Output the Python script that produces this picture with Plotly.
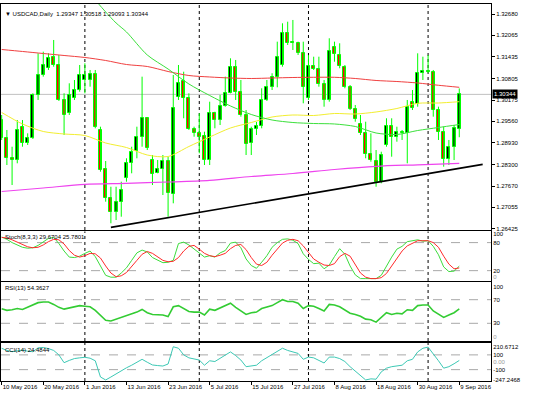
import plotly.graph_objects as go
from plotly.subplots import make_subplots

SYMBOL = "USDCAD"
TIMEFRAME = "Daily"

# ---------------- price data (daily bars, 10 May 2016 .. 9 Sep 2016) ----------------
OPEN = [
    1.29596, 1.29062, 1.28479, 1.28429, 1.29401, 1.28917, 1.29062, 1.30326, 1.30909, 1.31105,
    1.31425, 1.31201, 1.30180, 1.29792, 1.30229, 1.30471, 1.30763, 1.30763, 1.30938, 1.29305,
    1.28158, 1.27329, 1.26921, 1.27213, 1.27895, 1.28351, 1.28701, 1.29092, 1.29646, 1.28429,
    1.28059, 1.28158, 1.28409, 1.27437, 1.30276, 1.30743, 1.30229, 1.29325, 1.29226, 1.29130,
    1.28429, 1.29792, 1.29596, 1.30005, 1.30393, 1.31134, 1.30422, 1.29742, 1.28917, 1.29334,
    1.29421, 1.30180, 1.30550, 1.30842, 1.31201, 1.32126, 1.31863, 1.31834, 1.31542, 1.30229,
    1.31172, 1.31084, 1.30638, 1.30180, 1.31735, 1.31493, 1.31134, 1.30550, 1.29909, 1.29480,
    1.29208, 1.28604, 1.28409, 1.27796, 1.28867, 1.29421, 1.29109, 1.29255, 1.29208, 1.30130,
    1.30063, 1.30976, 1.30997, 1.31005, 1.29888, 1.29255, 1.28450, 1.28817, 1.29347]
HIGH = [
    1.29742, 1.29305, 1.28817, 1.29596, 1.29596, 1.29208, 1.30375, 1.31542, 1.31589, 1.31542,
    1.31930, 1.31493, 1.30375, 1.30667, 1.30763, 1.31201, 1.31250, 1.31055, 1.31055, 1.29401,
    1.28400, 1.27650, 1.27650, 1.27796, 1.28479, 1.28817, 1.29401, 1.30860, 1.29684, 1.28575,
    1.28429, 1.28575, 1.28526, 1.30909, 1.31201, 1.31005, 1.30375, 1.29401, 1.29792, 1.29255,
    1.30130, 1.29838, 1.30326, 1.30860, 1.31396, 1.31347, 1.30763, 1.29888, 1.29401, 1.29538,
    1.30521, 1.30763, 1.30959, 1.31881, 1.32417, 1.32464, 1.32514, 1.31881, 1.31881, 1.31493,
    1.31443, 1.31443, 1.30763, 1.31980, 1.31881, 1.31834, 1.31201, 1.30617, 1.30034, 1.29742,
    1.29547, 1.29208, 1.28721, 1.28671, 1.29646, 1.29646, 1.29401, 1.29305, 1.30180, 1.30471,
    1.31542, 1.31443, 1.31493, 1.31055, 1.29984, 1.29401, 1.29013, 1.29450, 1.30518]
LOW = [
    1.29013, 1.28283, 1.27700, 1.28333, 1.28817, 1.28867, 1.29042, 1.30180, 1.30860, 1.31055,
    1.31151, 1.30151, 1.29159, 1.29742, 1.30180, 1.30422, 1.30375, 1.30568, 1.29354, 1.28088,
    1.27213, 1.26583, 1.26679, 1.26775, 1.27796, 1.28041, 1.28479, 1.28817, 1.28721, 1.27700,
    1.28041, 1.27408, 1.26775, 1.27166, 1.30180, 1.29646, 1.29305, 1.29109, 1.28625, 1.28283,
    1.28283, 1.29354, 1.29450, 1.29984, 1.30375, 1.30180, 1.29693, 1.28575, 1.28575, 1.29159,
    1.29354, 1.30151, 1.30471, 1.30550, 1.31151, 1.31784, 1.31638, 1.31493, 1.30083, 1.30180,
    1.31055, 1.30568, 1.29984, 1.30130, 1.31297, 1.31105, 1.30521, 1.29888, 1.29547, 1.29159,
    1.28479, 1.28380, 1.27650, 1.27750, 1.28817, 1.28526, 1.28963, 1.29013, 1.28333, 1.29888,
    1.29984, 1.30763, 1.30967, 1.29693, 1.29013, 1.28234, 1.28283, 1.28429, 1.29093]
CLOSE = [
    1.29062, 1.28479, 1.28429, 1.29305, 1.28917, 1.29062, 1.30326, 1.30909, 1.31201, 1.31396,
    1.31201, 1.30180, 1.29742, 1.30326, 1.30471, 1.30909, 1.30909, 1.30938, 1.29401, 1.28138,
    1.27312, 1.26904, 1.27213, 1.27554, 1.28333, 1.28671, 1.29092, 1.29646, 1.28771, 1.28012,
    1.28158, 1.28409, 1.27458, 1.29938, 1.30684, 1.30229, 1.29325, 1.29226, 1.29092, 1.28429,
    1.29792, 1.29596, 1.30005, 1.30393, 1.31134, 1.30422, 1.29742, 1.28896, 1.29325, 1.29421,
    1.30180, 1.30550, 1.30842, 1.31443, 1.32126, 1.31851, 1.31834, 1.31542, 1.30550, 1.31172,
    1.31084, 1.30638, 1.30180, 1.31609, 1.31522, 1.31172, 1.30568, 1.29909, 1.29617, 1.29226,
    1.28604, 1.28429, 1.27796, 1.28575, 1.29421, 1.29109, 1.29255, 1.29208, 1.29984, 1.29938,
    1.30959, 1.31035, 1.31026, 1.29888, 1.29255, 1.28450, 1.28817, 1.29354, 1.30344]
BAR_IDX = list(range(len(CLOSE)))

DATE_TICK_IDX = [0, 8, 16, 24, 32, 40, 48, 56, 64, 72, 80, 88]
DATE_TICK_TEXT = ["10 May 2016", "20 May 2016", "1 Jun 2016", "13 Jun 2016", "23 Jun 2016",
                  "5 Jul 2016", "15 Jul 2016", "27 Jul 2016", "8 Aug 2016", "18 Aug 2016",
                  "30 Aug 2016", "9 Sep 2016"]
MONTH_START_IDX = [16, 38, 59, 82]
PRICE_TICKS = [1.32680, 1.32065, 1.31435, 1.30805, 1.30175, 1.29560,
               1.28930, 1.28300, 1.27670, 1.27055, 1.26425]

# ---------------- moving averages ----------------
MA_RED_IDX = list(range(0, 89, 4))
MA_RED = [1.31653, 1.31595, 1.31536, 1.31478, 1.31420, 1.31332, 1.31215, 1.31157, 1.31011,
          1.30894, 1.30851, 1.30821, 1.30807, 1.30821, 1.30836, 1.30842, 1.30842, 1.30807,
          1.30749, 1.30719, 1.30676, 1.30609, 1.30550]
MA_YELLOW_IDX = list(range(0, 89, 4))
MA_YELLOW = [1.29815, 1.29480, 1.29261, 1.29188, 1.29144, 1.28925, 1.28794, 1.28575, 1.28531,
             1.28823, 1.29100, 1.29363, 1.29523, 1.29684, 1.29742, 1.29727, 1.29786, 1.29771,
             1.29830, 1.29932, 1.30083, 1.30092, 1.30130]
MA_GREEN_IDX = [18, 20, 22, 24, 28, 32, 36, 40, 44, 48, 52, 56, 60, 64, 68, 72, 76, 80, 84, 88]
MA_GREEN = [1.33097, 1.32747, 1.32426, 1.32164, 1.31493, 1.31084, 1.30647, 1.30311, 1.30005,
            1.29757, 1.29596, 1.29523, 1.29494, 1.29480, 1.29407, 1.29217, 1.29173, 1.29290,
            1.29377, 1.29465]
MA_MAGENTA_IDX = list(range(0, 89, 8))
MA_MAGENTA = [1.27510, 1.27612, 1.27720, 1.27749, 1.27787, 1.27837, 1.27948, 1.28035,
              1.28152, 1.28245, 1.28289, 1.28333]

TREND_IDX = [21, 92.5]
TREND_PRICE = [1.26464, 1.28302]

# ---------------- oscillators ----------------
STOCH_K = [92, 87, 80, 75, 70, 68, 69, 74, 82, 89,
           91, 78, 62, 49, 48, 51, 57, 62, 50, 30,
           10, 6, 6, 15, 26, 42, 58, 64, 60, 48,
           42, 37, 38, 42, 78, 81, 75, 66, 56, 49,
           52, 49, 58, 63, 79, 81, 69, 45, 31, 25,
           38, 52, 70, 80, 87, 88, 85, 78, 56, 44,
           35, 36, 24, 32, 50, 67, 55, 30, 11, 3,
           3, 3, 3, 10, 30, 49, 66, 72, 82, 84,
           86, 83, 84, 72, 54, 28, 18, 19, 29.6704]
STOCH_D = [91, 90, 86, 81, 75, 71, 69, 70, 75, 82,
           87, 86, 77, 63, 53, 49, 52, 57, 56, 47,
           30, 15, 7, 9, 16, 28, 42, 55, 61, 57,
           50, 42, 39, 40, 48, 62, 72, 74, 66, 57,
           52, 50, 53, 57, 67, 74, 76, 65, 48, 34,
           31, 38, 53, 67, 79, 85, 87, 84, 73, 59,
           45, 38, 32, 31, 35, 50, 57, 51, 32, 15,
           6, 3, 3, 5, 14, 30, 48, 62, 73, 79,
           84, 84, 84, 80, 70, 51, 34, 24, 25.7801]
RSI = [54.6, 52, 53, 55, 53.5, 57, 61.7, 65, 66, 66,
       62, 57, 54, 56, 58, 60, 59, 58, 52, 43,
       35, 34, 37, 40, 42.5, 46, 49, 53.5, 48, 45,
       45, 44, 41.4, 58, 60, 55, 50, 49, 49, 44,
       54, 52, 56, 59, 64, 57, 51, 45, 48, 49,
       55, 58, 60, 65, 70, 67, 67, 64, 55, 60,
       59, 55, 51, 62, 61, 58, 53, 47, 45, 42,
       37, 36, 32, 40, 48, 45, 47, 46, 53, 52,
       60, 61, 61, 51, 46, 40, 44, 48, 54.3627]
CCI = [189, 160, 143, 155, 165, 150, 143, 195, 200, 185,
       160, 100, -6, 25, 50, 60, 67, 55, 20, -200,
       -240, -200, -155, -110, -75, -40, 0, 40, 0, -37,
       -45, -51, -24, 210, 190, 100, 60, 45, 30, -40,
       20, 10, 50, 90, 140, 90, 30, -60, -50, -40,
       20, 60, 100, 150, 190, 160, 145, 120, 40, 70,
       60, 30, -10, 70, 70, 50, 10, -60, -120, -190,
       -240, -225, -230, -130, -80, -60, -50, -40, 20, 40,
       140, 190, 205, 120, 20, -80, -60, -20, 24.4844]
CCI_MAX, CCI_MIN = 210.6712, -247.2468

STOCH_LEVELS = [20, 80]
RSI_LEVELS = [30, 70]
CCI_LEVELS = [100, -100]

FONT = "Liberation Sans, Arial, sans-serif"
WICK_COLOR = "#00FF00"
BULL_BODY = "#000000"
BEAR_BODY = "#FF0000"

fig = make_subplots(rows=4, cols=1, shared_xaxes=True, vertical_spacing=0.003)

# wicks (high-low segments built from the data arrays)
wick_x, wick_y = [], []
for i, h, l in zip(BAR_IDX, HIGH, LOW):
    wick_x += [i, i, None]
    wick_y += [l, h, None]
fig.add_trace(go.Scatter(x=wick_x, y=wick_y, mode="lines", showlegend=False, hoverinfo="skip",
                         line=dict(color=WICK_COLOR, width=1)), row=1, col=1)

# bodies
body_base = [min(o, c) for o, c in zip(OPEN, CLOSE)]
body_len = [max(abs(c - o), 0.00003) for o, c in zip(OPEN, CLOSE)]
body_col = [BULL_BODY if c >= o else BEAR_BODY for o, c in zip(OPEN, CLOSE)]
fig.add_trace(go.Bar(x=BAR_IDX, y=body_len, base=body_base, width=0.55,
                     marker=dict(color=body_col, line=dict(color=WICK_COLOR, width=1)),
                     showlegend=False, hoverinfo="skip"), row=1, col=1)

for xs, ys, col, w in [(MA_RED_IDX, MA_RED, "#F04040", 1),
                       (MA_YELLOW_IDX, MA_YELLOW, "#F2EE30", 1),
                       (MA_GREEN_IDX, MA_GREEN, "#3CE03C", 1),
                       (MA_MAGENTA_IDX, MA_MAGENTA, "#EE44EE", 1.2)]:
    fig.add_trace(go.Scatter(x=xs, y=ys, mode="lines", showlegend=False, hoverinfo="skip",
                             line=dict(color=col, width=w, shape="spline", smoothing=0.8)),
                  row=1, col=1)

fig.add_trace(go.Scatter(x=TREND_IDX, y=TREND_PRICE, mode="lines", showlegend=False,
                         hoverinfo="skip", line=dict(color="#000000", width=1.6)), row=1, col=1)

fig.add_trace(go.Scatter(x=BAR_IDX, y=STOCH_K, mode="lines", showlegend=False, hoverinfo="skip",
                         line=dict(color="#3CDC3C", width=1)), row=2, col=1)
fig.add_trace(go.Scatter(x=BAR_IDX, y=STOCH_D, mode="lines", showlegend=False, hoverinfo="skip",
                         line=dict(color="#FF2A2A", width=1)), row=2, col=1)
fig.add_trace(go.Scatter(x=BAR_IDX, y=RSI, mode="lines", showlegend=False, hoverinfo="skip",
                         line=dict(color="#33CC33", width=1.6)), row=3, col=1)
fig.add_trace(go.Scatter(x=BAR_IDX, y=CCI, mode="lines", showlegend=False, hoverinfo="skip",
                         line=dict(color="#3CC8B4", width=1)), row=4, col=1)

lvl = dict(color="#A8A8A8", width=1, dash="dash")
for v in STOCH_LEVELS:
    fig.add_hline(y=v, row=2, col=1, line=lvl, layer="below")
for v in RSI_LEVELS:
    fig.add_hline(y=v, row=3, col=1, line=lvl, layer="below")
for v in CCI_LEVELS:
    fig.add_hline(y=v, row=4, col=1, line=lvl, layer="below")
fig.add_hline(y=CLOSE[-1], row=1, col=1, line=dict(color="#C0C0C0", width=1), layer="below")
for m in MONTH_START_IDX:
    fig.add_vline(x=m, line=dict(color="#000000", width=1, dash="dot"), layer="below")

axis_common = dict(showline=True, mirror=True, linecolor="#000000", linewidth=1,
                   showgrid=False, zeroline=False)
fig.update_xaxes(**axis_common, range=[-0.13, 94.1], rangeslider_visible=False, ticks="")
fig.update_xaxes(row=4, col=1, tickvals=DATE_TICK_IDX, ticktext=DATE_TICK_TEXT,
                 ticks="outside", ticklen=3, tickcolor="#000000", tickangle=0,
                 ticklabelposition="outside right", tickfont=dict(size=6, color="#000000"))

yax = dict(axis_common, side="right", tickfont=dict(size=6, color="#000000"))
fig.update_layout(
    yaxis=dict(yax, domain=[0.4005, 1.0], range=[1.26387, 1.32980],
               tickvals=PRICE_TICKS, ticktext=[f"{v:.5f}" for v in PRICE_TICKS],
               ticks="outside", ticklen=3, tickcolor="#000000"),
    yaxis2=dict(yax, domain=[0.2653, 0.3966], range=[-2.1, 103.8],
                tickvals=[6, 20, 80, 98],
                ticktext=["<span style='color:#999999'>0</span>", "20", "80", "100"], ticks=""),
    yaxis3=dict(yax, domain=[0.1061, 0.2626], range=[0, 100],
                tickvals=[7, 30, 70, 92],
                ticktext=["<span style='color:#999999'>0</span>", "30", "70", "100"], ticks=""),
    yaxis4=dict(yax, domain=[0.0, 0.1021], range=[-254.1, 267.6],
                tickvals=[CCI_MAX, 100, 0, -100, -240],
                ticktext=[f"{CCI_MAX:.4f}", "100", "<span style='color:#999999'>0.00</span>",
                          "-100", f"{CCI_MIN:.4f}"], ticks=""),
    bargap=0,
)

ann_font = dict(family=FONT, size=6, color="#000000")
fig.add_annotation(xref="paper", yref="paper", x=0.004, y=0.9727, xanchor="left",
                   yanchor="middle", showarrow=False, font=ann_font,
                   text=f"\u25BC {SYMBOL},{TIMEFRAME}  {OPEN[-1]:.5f} {HIGH[-1]:.5f} "
                        f"{LOW[-1]:.5f} {CLOSE[-1]:.5f}")
fig.add_annotation(xref="paper", yref="paper", x=0.004, y=0.3812, xanchor="left",
                   yanchor="middle", showarrow=False, font=ann_font,
                   text=f"Stoch(8,3,3) {STOCH_K[-1]:.4f} {STOCH_D[-1]:.4f}")
fig.add_annotation(xref="paper", yref="paper", x=0.004, y=0.2459, xanchor="left",
                   yanchor="middle", showarrow=False, font=ann_font,
                   text=f"RSI(13) {RSI[-1]:.4f}")
fig.add_annotation(xref="paper", yref="paper", x=0.004, y=0.0822, xanchor="left",
                   yanchor="middle", showarrow=False, font=ann_font,
                   text=f"CCI(14) {CCI[-1]:.4f}")
fig.add_annotation(xref="paper", yref="y", x=1, y=CLOSE[-1], xanchor="left", xshift=1,
                   yanchor="middle", showarrow=False, bgcolor="#000000", borderpad=1,
                   font=dict(family=FONT, size=6, color="#FFFFFF"), text=f"{CLOSE[-1]:.5f}")

fig.update_layout(width=533, height=399, margin=dict(l=1, r=42, t=4, b=18),
                  paper_bgcolor="#FFFFFF", plot_bgcolor="#FFFFFF",
                  font=dict(family=FONT, size=6, color="#000000"),
                  showlegend=False, hovermode=False)

fig.write_html("out.html", config={"displayModeBar": False},
               post_script="document.body.style.margin='0';")
